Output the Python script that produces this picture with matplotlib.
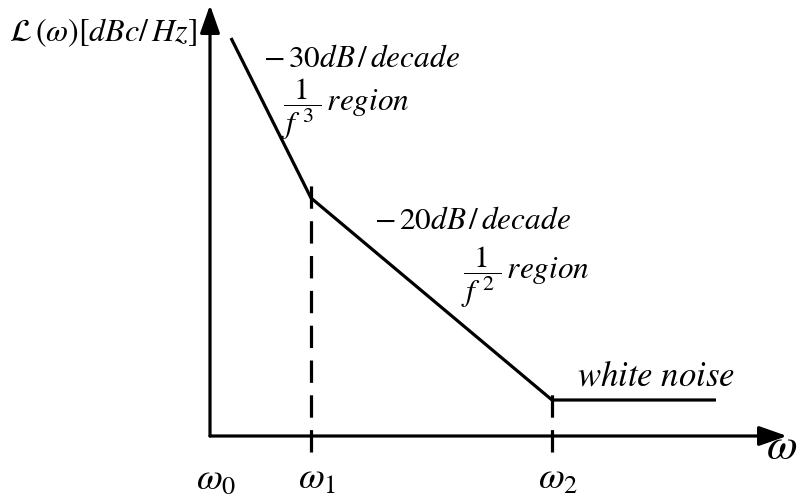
import matplotlib
matplotlib.use("Agg")
import matplotlib.pyplot as plt

plt.rcParams['mathtext.fontset'] = 'stix'
plt.rcParams['font.family'] = 'STIXGeneral'

# phase noise asymptotes (offset freq position, level), schematic units
noise_w = [231, 311, 552, 716]
noise_L = [458, 298, 96, 96]

# corner frequencies marked on the offset axis
corner_w = [210, 311, 552]
corner_labels = [r'$\omega_0$', r'$\omega_1$', r'$\omega_2$']

origin = (210, 60)
x_end = 787
y_end = 491
dash_bottom = 44

fig = plt.figure(figsize=(7.99, 4.96), dpi=100)
ax = fig.add_axes([0, 0, 1, 1])
ax.set_xlim(0, 799)
ax.set_ylim(0, 496)
ax.axis('off')

lw = 2.3
arrow = dict(arrowstyle='-|>,head_length=0.85,head_width=0.3', mutation_scale=20,
             lw=lw, color='black', shrinkA=0, shrinkB=0)
ax.annotate('', xy=(x_end, origin[1]), xytext=origin, arrowprops=arrow)
ax.annotate('', xy=(origin[0], y_end), xytext=origin, arrowprops=arrow)

# noise curve
ax.plot(noise_w, noise_L, color='black', lw=lw, solid_capstyle='butt')

# dashed markers at the corner frequencies
for w, L in zip(noise_w[1:3], noise_L[1:3]):
    ax.plot([w, w], [dash_bottom, L + 15], color='black', lw=lw,
            linestyle=(0, (7.0, 3.9)), dash_capstyle='butt')

for w, lab in zip(corner_w, corner_labels):
    ax.text(w + 6, 34, lab, fontsize=27, ha='center', va='top')
ax.text(766, 47, r'$\omega$', fontsize=32, ha='left', va='center')

ax.text(197, 463, r'$\mathcal{L}\,(\omega)[dBc/\,Hz]$', fontsize=23,
        ha='right', va='center')

frac3 = r'$\dfrac{\hspace{0.45}1\hspace{0.45}}{\hspace{0.1}f^{\;3}\hspace{0.2}}\,region$'
frac2 = r'$\dfrac{\hspace{0.45}1\hspace{0.45}}{\hspace{0.1}f^{\;2}\hspace{0.2}}\,region$'

ax.text(263, 436, r'$-\,30dB\,/\,decade$', fontsize=22.5, ha='left', va='center')
ax.text(281, 387, frac3, fontsize=22.5, ha='left', va='center')

ax.text(374, 274, r'$-\,20dB\,/\,decade$', fontsize=22.5, ha='left', va='center')
ax.text(461, 219, frac2, fontsize=22.5, ha='left', va='center')

ax.text(577, 119, r'$white\ noise$', fontsize=25, ha='left', va='center')

fig.savefig('out.png', dpi=100)
